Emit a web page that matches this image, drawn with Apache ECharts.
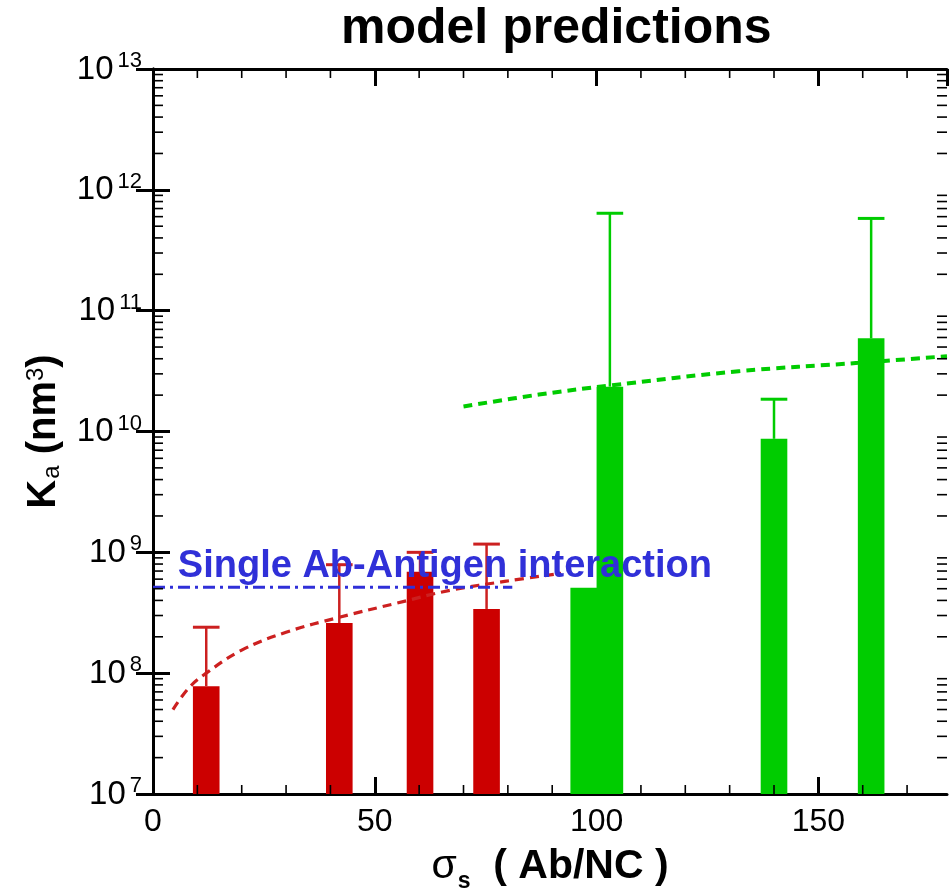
<!DOCTYPE html>
<html>
<head>
<meta charset="utf-8">
<script src="https://cdn.jsdelivr.net/npm/echarts@6/dist/echarts.min.js"></script>
<style>
html,body{margin:0;padding:0;background:#fff;}
#chart{width:949px;height:892px;}
</style>
</head>
<body>
<div id="chart"></div>
<script>
// ---- data ----
const xTickLabels = [0, 50, 100, 150];
const yDecades = [7, 8, 9, 10, 11, 12, 13];

const redBarX = [12, 42, 60.2, 75.2];
const redBarY = [7.8e7, 2.6e8, 6.9e8, 3.4e8];
const redErrTop = [2.4e8, 7.9e8, 1.0e9, 1.17e9];

const greenBarX = [97.1, 103, 140, 161.9];
const greenBarY = [5.1e8, 2.35e10, 8.7e9, 5.9e10];
const greenErrTop = [null, 6.4e11, 1.85e10, 5.8e11];

const redFitX = [4.5, 8, 12, 20, 30, 42, 55, 67, 80, 92];
const redFitY = [5.0e7, 7.5e7, 1.0e8, 1.55e8, 2.18e8, 2.9e8, 3.8e8, 4.85e8, 5.8e8, 6.7e8];

const greenFitX = [70, 87, 103, 132, 159, 179];
const greenFitY = [1.61e10, 2.02e10, 2.4e10, 3.15e10, 3.7e10, 4.2e10];

const singleX = [0, 81];
const singleY = [5.13e8, 5.13e8];
const singleLabel = 'Single Ab-Antigen interaction';
const singleLabelPos = [5.6, 7.7e8];

// ---- layout / style constants ----
const X_MIN = 0, X_MAX = 179, Y_MIN = 1e7, Y_MAX = 1e13;
const BAR_W = 6;
const RED = '#cc0000', RED_LINE = '#cc2020', GREEN = '#00cc00', BLUE = '#3030d8';
const FONT = '"Liberation Sans", Arial, sans-serif';

const xMinorTicks = [];
for (let v = 10; v < X_MAX; v += 10) if (v % 50 !== 0) xMinorTicks.push([v]);
const yMinorTicks = [];
for (let d = 7; d < 13; d++) for (let k = 2; k <= 9; k++) yMinorTicks.push([k * Math.pow(10, d)]);

function zipXY(xs, ys) { return xs.map((x, i) => [x, ys[i]]); }
function zipBars(xs, ys, es) { return xs.map((x, i) => [x, ys[i], es[i] == null ? NaN : es[i]]); }

function barRender(color) {
  return function (params, api) {
    const x = api.value(0), y = api.value(1), e = api.value(2);
    const p1 = api.coord([x - BAR_W / 2, y]);
    const p2 = api.coord([x + BAR_W / 2, Y_MIN]);
    const children = [{
      type: 'rect',
      shape: { x: p1[0], y: p1[1], width: p2[0] - p1[0], height: p2[1] - p1[1] },
      style: { fill: color }
    }];
    if (!isNaN(e)) {
      const b = api.coord([x, y]);
      const t = api.coord([x, e]);
      const cl = api.coord([x - BAR_W / 2, e]);
      const cr = api.coord([x + BAR_W / 2, e]);
      const lc = color === RED ? RED_LINE : color;
      children.push({ type: 'line', shape: { x1: b[0], y1: b[1], x2: t[0], y2: t[1] }, style: { stroke: lc, lineWidth: 2.5 } });
      children.push({ type: 'line', shape: { x1: cl[0], y1: cl[1], x2: cr[0], y2: cr[1] }, style: { stroke: lc, lineWidth: 3 } });
    }
    return { type: 'group', children: children };
  };
}

function yMinorRender(params, api) {
  const v = api.value(0);
  const l = api.coord([X_MIN, v]);
  const r = api.coord([X_MAX, v]);
  return { type: 'group', children: [
    { type: 'line', shape: { x1: l[0], y1: l[1], x2: l[0] + 10, y2: l[1] }, style: { stroke: '#000', lineWidth: 1.6 } },
    { type: 'line', shape: { x1: r[0], y1: r[1], x2: r[0] - 10, y2: r[1] }, style: { stroke: '#000', lineWidth: 1.6 } }
  ] };
}
function xMinorRender(params, api) {
  const v = api.value(0);
  const b = api.coord([v, Y_MIN]);
  const t = api.coord([v, Y_MAX]);
  return { type: 'group', children: [
    { type: 'line', shape: { x1: b[0], y1: b[1], x2: b[0], y2: b[1] - 9 }, style: { stroke: '#000', lineWidth: 1.6 } },
    { type: 'line', shape: { x1: t[0], y1: t[1], x2: t[0], y2: t[1] + 9 }, style: { stroke: '#000', lineWidth: 1.6 } }
  ] };
}

const axisLineStyle = { show: true, lineStyle: { color: '#000', width: 3 } };
const majorTick = { show: true, inside: true, length: 17, lineStyle: { color: '#000', width: 3 } };

const chart = echarts.init(document.getElementById('chart'), null, { renderer: 'canvas' });
chart.setOption({
  backgroundColor: '#fff',
  animation: false,
  title: {
    text: 'model predictions',
    left: 336,
    top: -1,
    textStyle: { fontFamily: FONT, fontSize: 50, fontWeight: 'bold', color: '#000' }
  },
  grid: { left: 153, right: 2, top: 69, bottom: 98, containLabel: false, outerBoundsMode: 'none' },
  xAxis: [{
    type: 'value', position: 'bottom', min: X_MIN, max: X_MAX, interval: 50,
    axisLine: axisLineStyle, axisTick: majorTick, splitLine: { show: false },
    axisLabel: {
      show: true, margin: 12, showMaxLabel: false, color: '#000', fontFamily: FONT, fontSize: 32,
      formatter: function (v) { return xTickLabels.indexOf(v) >= 0 ? String(v) : ''; }
    },
    name: '{g|σ}{sub|s}{b|  ( Ab/NC )}',
    nameLocation: 'middle', nameGap: 52,
    nameTextStyle: {
      rich: {
        g: { fontFamily: FONT, fontSize: 41, color: '#000', lineHeight: 42, verticalAlign: 'top' },
        sub: { fontFamily: FONT, fontSize: 23, fontWeight: 'bold', color: '#000', verticalAlign: 'bottom', lineHeight: 47, padding: [0, 0, 0, 1] },
        b: { fontFamily: FONT, fontSize: 41, fontWeight: 'bold', color: '#000', lineHeight: 42, verticalAlign: 'top' }
      }
    }
  }, {
    type: 'value', position: 'top', min: X_MIN, max: X_MAX, interval: 50,
    axisLine: axisLineStyle, axisTick: majorTick, splitLine: { show: false },
    axisLabel: { show: false }
  }],
  yAxis: [{
    type: 'log', logBase: 10, position: 'left', min: Y_MIN, max: Y_MAX, splitNumber: 6,
    axisLine: axisLineStyle, axisTick: majorTick, splitLine: { show: false },
    axisLabel: {
      show: true, margin: 11, color: '#000', padding: [0, 0, 2, 0],
      formatter: function (v) {
        const e = Math.round(Math.log10(v));
        return yDecades.indexOf(e) >= 0 ? '{b|10}{s|' + e + '}' : '';
      },
      rich: {
        b: { fontFamily: FONT, fontSize: 33, color: '#000', lineHeight: 34, verticalAlign: 'bottom' },
        s: { fontFamily: FONT, fontSize: 22, color: '#000', verticalAlign: 'top', lineHeight: 36, padding: [0, 0, 0, 4] }
      }
    },
    name: '{b|K}{sub|a}{b| (nm}{sup|3}{b|)}',
    nameLocation: 'middle', nameRotate: 90, nameGap: 89,
    nameTextStyle: {
      rich: {
        b: { fontFamily: FONT, fontSize: 40, fontWeight: 'bold', color: '#000', lineHeight: 40 },
        sub: { fontFamily: FONT, fontSize: 24, color: '#000', verticalAlign: 'bottom', lineHeight: 22, padding: [14, 0, 0, 1] },
        sup: { fontFamily: FONT, fontSize: 24, color: '#000', verticalAlign: 'top', lineHeight: 18 }
      }
    }
  }, {
    type: 'log', logBase: 10, position: 'right', min: Y_MIN, max: Y_MAX, splitNumber: 6,
    axisLine: axisLineStyle, axisTick: majorTick, splitLine: { show: false },
    axisLabel: { show: false }
  }],
  series: [
    { type: 'custom', name: 'yMinor', xAxisIndex: 0, yAxisIndex: 0, data: yMinorTicks, renderItem: yMinorRender, clip: false, silent: true, z: 5 },
    { type: 'custom', name: 'xMinor', xAxisIndex: 0, yAxisIndex: 0, data: xMinorTicks, renderItem: xMinorRender, clip: false, silent: true, z: 5 },
    { type: 'custom', name: 'red bars', xAxisIndex: 0, yAxisIndex: 0, data: zipBars(redBarX, redBarY, redErrTop), renderItem: barRender(RED), clip: false, z: 2, encode: { x: 0, y: 1 } },
    { type: 'custom', name: 'green bars', xAxisIndex: 0, yAxisIndex: 0, data: zipBars(greenBarX, greenBarY, greenErrTop), renderItem: barRender(GREEN), clip: false, z: 2, encode: { x: 0, y: 1 } },
    { type: 'line', name: 'red fit', data: zipXY(redFitX, redFitY), smooth: 0.4, symbol: 'none',
      lineStyle: { color: RED_LINE, width: 3.2, type: [9, 6] }, z: 3 },
    { type: 'line', name: 'green fit', data: zipXY(greenFitX, greenFitY), smooth: 0.4, symbol: 'none',
      lineStyle: { color: GREEN, width: 4, type: [9, 6] }, z: 3 },
    { type: 'line', name: 'single', data: zipXY(singleX, singleY), symbol: 'none',
      lineStyle: { color: BLUE, width: 3, type: [12, 5, 3, 5] }, z: 3 },
    { type: 'scatter', name: 'label', data: [singleLabelPos], symbolSize: 0, z: 10,
      itemStyle: { opacity: 1 },
      label: { show: true, position: 'right', distance: 0, formatter: singleLabel, opacity: 1,
        fontFamily: FONT, fontSize: 38, fontWeight: 'bold', color: BLUE } }
  ]
});
</script>
</body>
</html>
